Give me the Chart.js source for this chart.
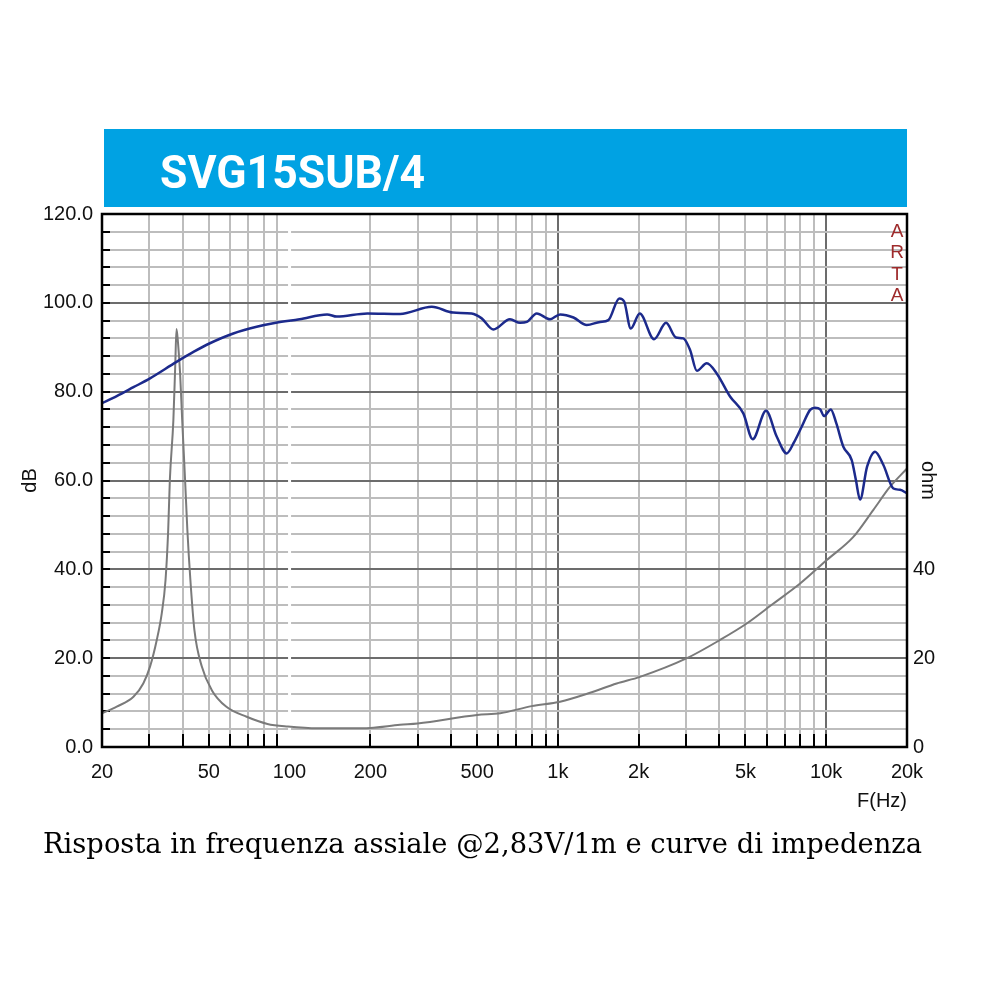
<!DOCTYPE html>
<html><head><meta charset="utf-8">
<script src="https://cdn.jsdelivr.net/npm/chart.js@4.4.1/dist/chart.umd.min.js"></script>
<style>
html,body{margin:0;padding:0;background:#fff;width:1000px;height:1000px;overflow:hidden;}
#wrap{position:relative;width:1000px;height:1000px;}
canvas{position:absolute;left:0;top:0;}
#banner{position:absolute;left:104px;top:129px;width:803px;height:78px;background:#00a2e3;}
#bannerText{position:absolute;left:56px;top:4px;line-height:78px;font-family:Roboto,'Liberation Sans',sans-serif;font-weight:bold;font-size:47px;color:#fff;white-space:nowrap;transform-origin:0 50%;}
#caption{position:absolute;left:43px;top:829px;line-height:30px;font-family:'DejaVu Serif',serif;font-size:27px;color:#000;white-space:nowrap;transform-origin:0 50%;}
.arta{position:absolute;width:20px;text-align:center;left:887px;font-family:'Liberation Sans',Arial,sans-serif;font-size:19px;color:#9e2a2b;line-height:20px;}
</style></head>
<body>
<div id="wrap">
<canvas id="c" width="1000" height="1000"></canvas>
<div id="banner"><div id="bannerText">SVG15SUB/4</div></div>
<div class="arta" style="top:221px">A</div>
<div class="arta" style="top:242px">R</div>
<div class="arta" style="top:264px">T</div>
<div class="arta" style="top:285px">A</div>
<div id="caption">Risposta in frequenza assiale @2,83V/1m e curve di impedenza</div>
</div>
<script>
// ---- data ----
const frHz  = [20, 22.7, 26.2, 30.2, 37.9, 44, 50.5, 61.7, 75.4, 89, 109, 138, 150, 195, 258, 339, 407, 477, 520, 575, 663, 723, 766, 834, 935, 1019, 1143, 1281, 1436, 1542, 1694, 1766, 1869, 2019, 2283, 2530, 2755, 2933, 3109, 3296, 3588, 3908, 4381, 4910, 5322, 5966, 6537, 7122, 7600, 8101, 8710, 9078, 9500, 9814, 10397, 10900, 11582, 12446, 12900, 13366, 14200, 15205, 16334, 17797, 18845, 20000];
const frDb  = [77.4, 79.0, 81.0, 83.0, 86.7, 89.0, 90.9, 93.1, 94.6, 95.5, 96.3, 97.4, 96.9, 97.6, 97.5, 99.1, 97.8, 97.6, 96.5, 94.0, 96.3, 95.5, 95.7, 97.6, 96.3, 97.4, 96.7, 95.0, 95.7, 96.1, 101.0, 100.3, 94.2, 97.6, 91.8, 95.5, 92.2, 92.0, 89.4, 84.7, 86.4, 84.1, 78.9, 75.1, 69.3, 75.7, 69.9, 66.1, 68.7, 72.1, 75.9, 76.4, 76.0, 74.5, 76.0, 72.9, 67.6, 64.6, 60.1, 55.7, 63.1, 66.5, 63.5, 58.2, 57.9, 57.1];
const impHz  = [20, 22.7, 26.2, 28.5, 30.2, 32, 33.4, 34.5, 35.3, 35.8, 36.9, 37.5, 37.9, 38.4, 39.1, 39.8, 40.8, 41.6, 42.7, 44.2, 47.1, 51.3, 58, 69.2, 82.7, 98.6, 127, 167, 200, 258, 300, 500, 610, 798, 1019, 1318, 1656, 2023, 3026, 4020, 5054, 6357, 7992, 10050, 12620, 14990, 17300, 20000];
const impOhm = [7.6, 9.1, 11.3, 14.3, 18.1, 24.1, 30.1, 37.6, 48.9, 60.1, 73.6, 86, 94.1, 91, 84, 73.6, 60.1, 48.9, 37.6, 26.3, 18.1, 12.8, 9.1, 6.8, 5.2, 4.6, 4.2, 4.2, 4.3, 5.0, 5.3, 7.2, 7.6, 9.2, 10.2, 12.2, 14.3, 15.8, 20.0, 24.1, 27.8, 32.3, 36.8, 42.1, 47.3, 53.4, 58.6, 62.7];

const xGridFreqs = [20,30,40,50,60,70,80,90,100,200,300,400,500,600,700,800,900,1000,2000,3000,4000,5000,6000,7000,8000,9000,10000,20000];
const xMajorFreqs = [1000,10000];
const xGapFreq = 100;
const xLabelFreqs = [20,50,100,200,500,1000,2000,5000,10000,20000];
const xLabels = ['20','50','100','200','500','1k','2k','5k','10k','20k'];
const dbGrid = [0,4,8,12,16,20,24,28,32,36,40,44,48,52,56,60,64,68,72,76,80,84,88,92,96,100,104,108,112,116,120];
const dbLabelValues = [0,20,40,60,80,100,120];
const ohmLabelValues = [0,20,40];

const fr = frHz.map((f,i)=>({x:f,y:frDb[i]}));
const imp = impHz.map((f,i)=>({x:f,y:impOhm[i]}));

const FONT = {family:"'Liberation Sans', Arial, sans-serif", size:20};
const DARK = '#6c6c6c', LIGHT = '#bdbdbd';

const framePlugin = {
  id:'frame',
  beforeDatasetsDraw(chart){
    const {ctx, chartArea:a, scales:{x,y}} = chart;
    ctx.save();
    const gp = x.getPixelForValue(xGapFreq);
    ctx.fillStyle = '#fff';
    ctx.fillRect(gp-1.5, a.top, 3, a.bottom-a.top);
    ctx.strokeStyle = '#000'; ctx.lineWidth = 2;
    xGridFreqs.forEach(f=>{
      if (f===xGapFreq || f===20 || f===20000) return;
      const p = Math.round(x.getPixelForValue(f));
      ctx.beginPath(); ctx.moveTo(p, a.bottom); ctx.lineTo(p, a.bottom-13); ctx.stroke();
    });
    dbGrid.forEach(v=>{
      if (v===0 || v===120) return;
      const p = Math.round(y.getPixelForValue(v));
      ctx.beginPath(); ctx.moveTo(a.left, p); ctx.lineTo(a.left+8, p); ctx.stroke();
    });
    ctx.restore();
  },
  afterDatasetsDraw(chart){
    const {ctx, chartArea:a} = chart;
    ctx.save();
    ctx.strokeStyle = '#000'; ctx.lineWidth = 2.5;
    ctx.strokeRect(a.left, a.top, a.right-a.left, a.bottom-a.top);
    ctx.restore();
  }
};

new Chart(document.getElementById('c'), {
  type:'scatter',
  data:{datasets:[
    {label:'Impedenza', data:imp, yAxisID:'y2', showLine:true, borderColor:'#7a7a7a', borderWidth:2, pointRadius:0, cubicInterpolationMode:'monotone', order:2},
    {label:'Risposta', data:fr, yAxisID:'y', showLine:true, borderColor:'#1c2a8c', borderWidth:2.5, pointRadius:0, cubicInterpolationMode:'monotone', order:1}
  ]},
  options:{
    responsive:false, animation:false, devicePixelRatio:1,
    layout:{padding:{top:214,left:0,right:0,bottom:0}},
    plugins:{legend:{display:false}, tooltip:{enabled:false}},
    scales:{
      x:{type:'logarithmic', min:20, max:20000, position:'bottom',
        afterBuildTicks:s=>{s.ticks = xGridFreqs.map(v=>({value:v}));},
        afterFit:s=>{s.height = 253;},
        ticks:{autoSkip:false, maxRotation:0, minRotation:0, padding:13, color:'#111', font:FONT,
          callback:(v)=>{const i = xLabelFreqs.indexOf(v); return i>=0 ? xLabels[i] : '';}},
        grid:{drawTicks:false, lineWidth:2, color:c=>xMajorFreqs.includes(c.tick.value)?DARK:LIGHT},
        border:{display:false},
        title:{display:true, text:'F(Hz)', align:'end', color:'#111', font:FONT, padding:{top:0,bottom:187}}
      },
      y:{type:'linear', min:0, max:120, position:'left',
        afterBuildTicks:s=>{s.ticks = dbGrid.map(v=>({value:v}));},
        afterFit:s=>{s.width = 102;},
        ticks:{autoSkip:false, padding:9, color:'#111', font:FONT,
          callback:(v)=>dbLabelValues.includes(v) ? v.toFixed(1) : ''},
        grid:{drawTicks:false, lineWidth:2, color:c=>dbLabelValues.includes(c.tick.value)?DARK:LIGHT},
        border:{display:false},
        title:{display:true, text:'dB', color:'#111', font:FONT, padding:{top:18,bottom:0}}
      },
      y2:{type:'linear', min:0, max:120, position:'right',
        afterBuildTicks:s=>{s.ticks = ohmLabelValues.map(v=>({value:v}));},
        afterFit:s=>{s.width = 93;},
        ticks:{autoSkip:false, padding:6, color:'#111', font:FONT, callback:(v)=>String(v)},
        grid:{display:false, drawTicks:false},
        border:{display:false},
        title:{display:true, text:'ohm', color:'#111', font:FONT, padding:{top:60,bottom:0}}
      }
    }
  },
  plugins:[framePlugin]
});

function fitWidth(el, target){
  el.style.transform = 'none';
  const w = el.getBoundingClientRect().width;
  if (w>0) el.style.transform = 'scaleX(' + (target/w) + ')';
}
fitWidth(document.getElementById('bannerText'), 265);
fitWidth(document.getElementById('caption'), 879);
</script>
</body></html>
